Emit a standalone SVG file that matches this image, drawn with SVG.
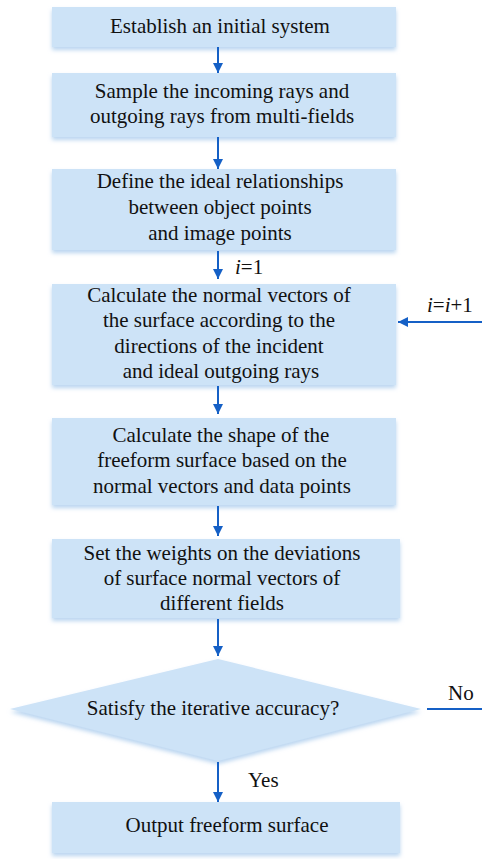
<svg xmlns="http://www.w3.org/2000/svg" width="482" height="859" viewBox="0 0 482 859" font-family="Liberation Serif" font-size="21">
<defs>
<filter id="sh" x="-10%" y="-20%" width="120%" height="150%">
<feGaussianBlur in="SourceAlpha" stdDeviation="2"/>
<feOffset dx="0" dy="3" result="b"/>
<feFlood flood-color="#9cc3ea" flood-opacity="0.7"/>
<feComposite in2="b" operator="in"/>
<feMerge><feMergeNode/><feMergeNode in="SourceGraphic"/></feMerge>
</filter>
<marker id="ah" viewBox="0 0 10 10" refX="10" refY="5" markerWidth="10" markerHeight="10" markerUnits="userSpaceOnUse" orient="auto">
<path d="M0,0 L10,5 L0,10 z" fill="#1560c6"/>
</marker>
</defs>
<style>
text{font-family:'Liberation Serif',serif !important;font-size:21px;fill:#111}
.box{fill:#cde3f7;filter:url(#sh)}
.t{text-anchor:middle}
.c{stroke:#1560c6;stroke-width:2;fill:none;marker-end:url(#ah)}
.n{stroke:#1560c6;stroke-width:2;fill:none}
</style>
<rect width="482" height="859" fill="#fff"/>
<g id="n1"><rect class="box" x="52" y="7" width="344" height="40"/>
<text class="t" x="220" y="33" style="font-family:'Liberation Serif'">Establish an initial system</text></g>
<g id="n2"><rect class="box" x="52" y="73" width="344" height="64"/>
<text class="t" x="222" y="98">Sample the incoming rays and</text>
<text class="t" x="222" y="123">outgoing rays from multi-fields</text></g>
<g id="n3"><rect class="box" x="52" y="169" width="344" height="81"/>
<text class="t" x="220" y="188">Define the ideal relationships</text>
<text class="t" x="220" y="214">between object points</text>
<text class="t" x="220" y="240">and image points</text></g>
<g id="n4"><rect class="box" x="52" y="284" width="344" height="101"/>
<text class="t" x="219" y="302">Calculate the normal vectors of</text>
<text class="t" x="219" y="327">the surface according to the</text>
<text class="t" x="219" y="353">directions of the incident</text>
<text class="t" x="221" y="378">and ideal outgoing rays</text></g>
<g id="n5"><rect class="box" x="52" y="418" width="344" height="87"/>
<text class="t" x="221" y="442">Calculate the shape of the</text>
<text class="t" x="222" y="467">freeform surface based on the</text>
<text class="t" x="222" y="493">normal vectors and data points</text></g>
<g id="n6"><rect class="box" x="52" y="539" width="348" height="79"/>
<text class="t" x="222" y="560">Set the weights on the deviations</text>
<text class="t" x="222" y="585">of surface normal vectors of</text>
<text class="t" x="222" y="610">different fields</text></g>
<g id="n7"><polygon class="box" points="218,659 421,709 218,761 10,709"/>
<text class="t" x="213" y="715">Satisfy the iterative accuracy?</text></g>
<g id="n8"><rect class="box" x="52" y="802" width="348" height="51"/>
<text class="t" x="227" y="832">Output freeform surface</text></g>
<g id="connectors">
<line class="c" x1="218" y1="47" x2="218" y2="73"/>
<line class="c" x1="218" y1="137" x2="218" y2="169"/>
<line class="c" x1="218" y1="251" x2="218" y2="279"/>
<line class="c" x1="218" y1="386" x2="218" y2="414"/>
<line class="c" x1="218" y1="506" x2="218" y2="536"/>
<line class="c" x1="218" y1="619" x2="218" y2="656"/>
<line class="c" x1="218" y1="762" x2="218" y2="802"/>
<line class="n" x1="427" y1="709" x2="482" y2="709"/>
<line class="c" x1="482" y1="322" x2="398" y2="322"/>
<text x="235" y="274"><tspan font-style="italic">i</tspan>=1</text>
<text x="427" y="312"><tspan font-style="italic">i</tspan>=<tspan font-style="italic">i</tspan>+1</text>
<text x="448" y="700">No</text>
<text x="248" y="787">Yes</text>
</g>
</svg>
